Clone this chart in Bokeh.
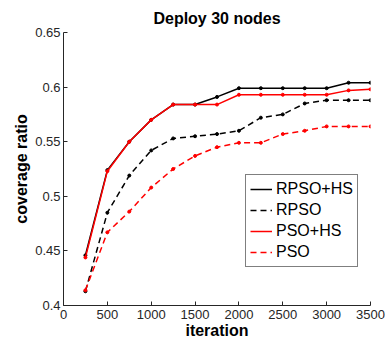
from bokeh.plotting import figure
from bokeh.models import FixedTicker, Legend, LegendItem
from bokeh.embed import file_html
from bokeh.resources import INLINE

iterations = [250, 500, 750, 1000, 1250, 1500, 1750, 2000, 2250, 2500, 2750, 3000, 3250, 3500]
rpso_hs = [0.446, 0.524, 0.550, 0.570, 0.584, 0.584, 0.591, 0.599, 0.599, 0.599, 0.599, 0.599, 0.604, 0.604]
rpso    = [0.413, 0.485, 0.519, 0.542, 0.553, 0.555, 0.557, 0.560, 0.572, 0.575, 0.585, 0.588, 0.588, 0.588]
pso_hs  = [0.444, 0.523, 0.550, 0.570, 0.584, 0.584, 0.584, 0.593, 0.593, 0.593, 0.593, 0.593, 0.597, 0.598]
pso     = [0.414, 0.467, 0.486, 0.508, 0.525, 0.537, 0.545, 0.549, 0.549, 0.557, 0.560, 0.564, 0.564, 0.564]

series_names = ["RPSO+HS", "RPSO", "PSO+HS", "PSO"]
x_ticks = [0, 500, 1000, 1500, 2000, 2500, 3000, 3500]
y_ticks = [0.4, 0.45, 0.5, 0.55, 0.6, 0.65]
y_tick_labels = ["0.4", "0.45", "0.5", "0.55", "0.6", "0.65"]

FONT = "Liberation Sans"
AX = "#262626"

p = figure(width=385, height=341, x_range=(0, 3500), y_range=(0.4, 0.65),
           output_backend="svg", toolbar_location=None,
           min_border_left=63, min_border_right=15, min_border_top=32, min_border_bottom=35,
           title="Deploy 30 nodes")
p.outline_line_color = None
p.xgrid.visible = False
p.ygrid.visible = False
p.background_fill_color = "white"
p.border_fill_color = "white"

p.title.align = "center"
p.title.text_font = FONT
p.title.text_font_size = "16px"
p.title.text_font_style = "bold"
p.title.text_color = "black"
p.title.standoff = 12

for ax in (p.xaxis[0], p.yaxis[0]):
    ax.axis_line_color = AX
    ax.major_tick_line_color = AX
    ax.major_tick_in = 4
    ax.major_tick_out = 0
    ax.minor_tick_line_color = None
    ax.major_label_text_font = FONT
    ax.major_label_text_font_size = "13px"
    ax.major_label_text_color = AX
    ax.axis_label_text_font = FONT
    ax.axis_label_text_font_size = "16px"
    ax.axis_label_text_font_style = "bold"
    ax.axis_label_text_color = "black"

p.xaxis.ticker = FixedTicker(ticks=x_ticks)
p.yaxis.ticker = FixedTicker(ticks=y_ticks)
p.yaxis.major_label_overrides = {t: l for t, l in zip(y_ticks, y_tick_labels)}
p.xaxis.axis_label = "iteration"
p.yaxis.axis_label = "coverage ratio"
p.xaxis.major_label_standoff = 4
p.yaxis.major_label_standoff = 3
p.xaxis.axis_label_standoff = 0
p.yaxis.axis_label_standoff = 2

styles = [("black", "solid"), ("black", "6 4"), ("red", "solid"), ("red", "6 4")]
items = []
for name, ys, (col, dash) in zip(series_names, [rpso_hs, rpso, pso_hs, pso], styles):
    r1 = p.line(iterations, ys, line_color=col, line_width=1.5, line_dash=dash)
    p.scatter(iterations, ys, size=3, fill_color=col, line_color=col)
    items.append(LegendItem(label=name, renderers=[r1]))

legend = Legend(items=items, location=(182, 38))
legend.label_text_font = FONT
legend.label_text_font_size = "16px"
legend.label_text_color = "black"
legend.glyph_width = 22
legend.glyph_height = 20
legend.label_height = 20
legend.label_standoff = 4
legend.spacing = 1
legend.padding = 4
legend.margin = 0
legend.border_line_color = "black"
legend.border_line_width = 1
legend.background_fill_alpha = 1
p.add_layout(legend, "center")

open("out.html", "w").write(file_html(p, INLINE))
